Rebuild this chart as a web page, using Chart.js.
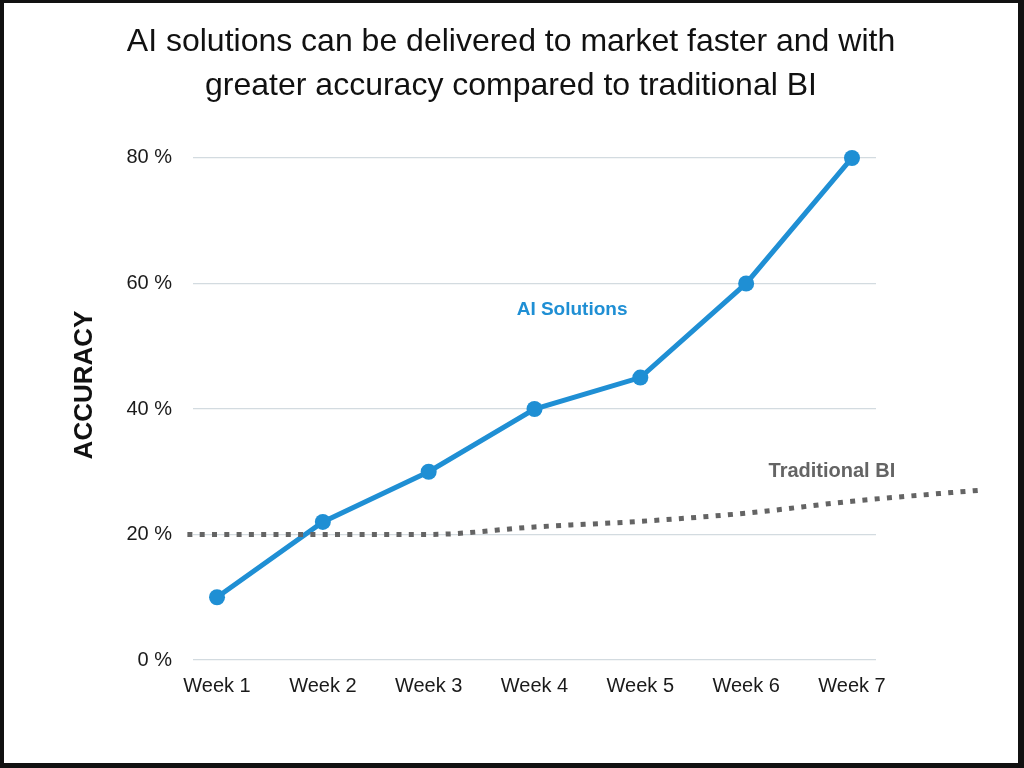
<!DOCTYPE html>
<html>
<head>
<meta charset="utf-8">
<script src="https://cdn.jsdelivr.net/npm/chart.js@4"></script>
<style>
  html, body { margin: 0; padding: 0; background: #fff; }
  #frame { width: 1024px; height: 768px; box-sizing: border-box; border-style: solid; border-color: #111;
           border-width: 3px 6px 5px 4px; background: #fff; }
  canvas { display: block; }
</style>
</head>
<body>
<div id="frame"><canvas id="c" width="1014" height="760"></canvas></div>
<script>
// ---- data ----
const weeks = ['Week 1', 'Week 2', 'Week 3', 'Week 4', 'Week 5', 'Week 6', 'Week 7'];
const aiSolutions = [10, 22, 30, 40, 45, 60, 80];
const traditionalBI = [20, 20, 20, 21.2, 22.1, 23.4, 25.3];
// Traditional BI trend continues slightly before Week 1 and past Week 7
const biLeadX = 0.72, biLeadY = 20;
const biTailX = 8.24, biTailY = 27.1;
const yTicks = [0, 20, 40, 60, 80];
const titleLines = ['AI solutions can be delivered to market faster and with',
                    'greater accuracy compared to traditional BI'];
const yTitle = 'ACCURACY';
const aiLabel = 'AI Solutions';
const biLabel = 'Traditional BI';

const aiPoints = weeks.map((w, i) => ({ x: i + 1, y: aiSolutions[i] }));
const biPoints = [{ x: biLeadX, y: biLeadY }]
  .concat(weeks.map((w, i) => ({ x: i + 1, y: traditionalBI[i] })))
  .concat([{ x: biTailX, y: biTailY }]);

const BLUE = '#1f8fd4';
const GRAY = '#646464';

const annotate = {
  id: 'annotate',
  afterDatasetsDraw(chart) {
    const { ctx, scales: { x, y }, chartArea } = chart;
    ctx.save();
    ctx.textAlign = 'center';
    ctx.textBaseline = 'middle';
    ctx.font = 'bold 19px "Liberation Sans", Arial, sans-serif';
    ctx.fillStyle = BLUE;
    ctx.fillText(aiLabel, x.getPixelForValue(4.355), y.getPixelForValue(55.8));
    ctx.fillStyle = GRAY;
    ctx.font = 'bold 20px "Liberation Sans", Arial, sans-serif';
    ctx.fillText(biLabel, x.getPixelForValue(6.81), y.getPixelForValue(30.1));
    // y axis title
    ctx.translate(81, (chartArea.top + chartArea.bottom) / 2 - 24);
    ctx.rotate(-Math.PI / 2);
    ctx.fillStyle = '#111';
    ctx.font = 'bold 26px "Liberation Sans", Arial, sans-serif';
    ctx.fillText(yTitle, 0, 0);
    ctx.restore();
  }
};

new Chart(document.getElementById('c'), {
  type: 'line',
  data: {
    datasets: [
      {
        label: aiLabel,
        data: aiPoints,
        borderColor: BLUE,
        backgroundColor: BLUE,
        borderWidth: 5,
        pointRadius: 8,
        pointBorderWidth: 0,
        pointBackgroundColor: BLUE,
        tension: 0,
        clip: false,
        order: 1
      },
      {
        label: biLabel,
        data: biPoints,
        borderColor: GRAY,
        borderWidth: 5,
        borderDash: [5, 7.3],
        borderCapStyle: 'butt',
        pointRadius: 0,
        cubicInterpolationMode: 'monotone',
        clip: false,
        order: 0
      }
    ]
  },
  plugins: [annotate],
  options: {
    responsive: false,
    animation: false,
    layout: { padding: { left: 0, right: 0, top: 0, bottom: 63 } },
    plugins: {
      legend: { display: false },
      tooltip: { enabled: false },
      title: {
        display: true,
        text: titleLines,
        color: '#111',
        font: { family: '"Liberation Sans", Arial, sans-serif', size: 32, weight: 'normal', lineHeight: 1.37 },
        padding: { top: 17.5, bottom: 49.8 }
      }
    },
    scales: {
      x: {
        type: 'linear',
        min: 0.773,
        max: 7.227,
        afterBuildTicks: (s) => { s.ticks = weeks.map((w, i) => ({ value: i + 1 })); },
        afterFit: (s) => { s.height = 40; },
        grid: { display: false, drawTicks: false },
        border: { display: false },
        ticks: {
          padding: 14,
          color: '#1a1a1a',
          font: { family: '"Liberation Sans", Arial, sans-serif', size: 20 },
          callback: (v) => weeks[Math.round(v) - 1] || ''
        }
      },
      y: {
        min: 0,
        max: 80,
        afterBuildTicks: (s) => { s.ticks = yTicks.map(v => ({ value: v })); },
        afterFit: (s) => { s.width = 189; },
        grid: { color: '#d3dbe0', lineWidth: 1.2, drawTicks: false },
        border: { display: false },
        ticks: {
          padding: 21,
          color: '#1a1a1a',
          font: { family: '"Liberation Sans", Arial, sans-serif', size: 20 },
          callback: (v) => v + ' %'
        }
      },
      rightSpace: {
        type: 'linear',
        position: 'right',
        display: true,
        afterFit: (s) => { s.width = 142; },
        grid: { display: false, drawTicks: false },
        border: { display: false },
        ticks: { display: false }
      }
    }
  }
});
</script>
</body>
</html>
